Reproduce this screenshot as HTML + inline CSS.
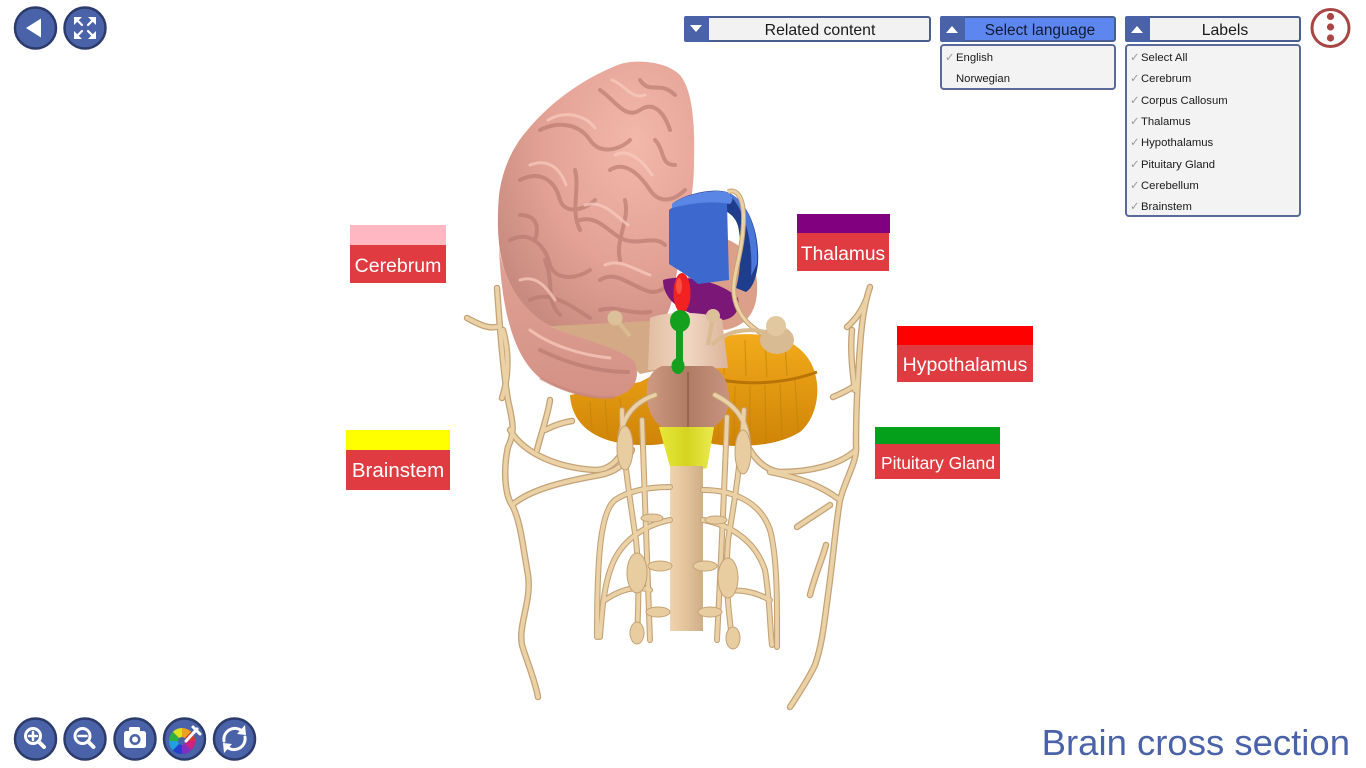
<!DOCTYPE html>
<html><head><meta charset="utf-8"><style>
html,body{margin:0;padding:0;background:#fff;width:1366px;height:768px;overflow:hidden}
svg{display:block}
text{font-family:"Liberation Sans",Arial,sans-serif}
</style></head><body>
<svg width="1366" height="768" viewBox="0 0 1366 768" xmlns="http://www.w3.org/2000/svg">
<defs>
<radialGradient id="gCer" cx="0.7" cy="0.3" r="0.8">
<stop offset="0" stop-color="#f2b8aa"/><stop offset="0.6" stop-color="#e3a195"/><stop offset="1" stop-color="#c98b80"/>
</radialGradient>
<linearGradient id="gLob" x1="0" y1="0" x2="0" y2="1">
<stop offset="0" stop-color="#e2a195"/><stop offset="1" stop-color="#d49286"/>
</linearGradient>
<linearGradient id="gOr" x1="0" y1="0" x2="0" y2="1">
<stop offset="0" stop-color="#f3ab1c"/><stop offset="1" stop-color="#cf8406"/>
</linearGradient>
<linearGradient id="gPons" x1="0" y1="0" x2="1" y2="0">
<stop offset="0" stop-color="#d09a82"/><stop offset="0.5" stop-color="#b07c64"/><stop offset="1" stop-color="#c89480"/>
</linearGradient>
<linearGradient id="gMid" x1="0" y1="0" x2="1" y2="0">
<stop offset="0" stop-color="#e2bea2"/><stop offset="0.5" stop-color="#f0d6c2"/><stop offset="1" stop-color="#dcb49a"/>
</linearGradient>
<linearGradient id="gCord" x1="0" y1="0" x2="1" y2="0">
<stop offset="0" stop-color="#f0d4ae"/><stop offset="0.5" stop-color="#e2c29a"/><stop offset="1" stop-color="#cfae86"/>
</linearGradient>
<linearGradient id="gYel" x1="0" y1="0" x2="1" y2="0">
<stop offset="0" stop-color="#e8e83a"/><stop offset="0.5" stop-color="#d4d420"/><stop offset="1" stop-color="#eaea50"/>
</linearGradient>
<g id="outerN">
<path d="M497,288 C500,330 503,370 508,400 C512,420 516,430 508,447 C503,470 505,495 512,505 C520,520 522,540 528,575 C532,600 518,625 522,645 C528,665 535,680 538,697"/>
<path d="M467,318 C480,325 490,330 500,326"/>
<path d="M503,330 C510,355 508,380 502,398"/>
<path d="M510,430 C525,455 560,468 595,470 C610,470 620,460 628,440"/>
<path d="M512,505 C530,490 560,482 600,475 C615,472 625,465 632,450"/>
<path d="M537,450 C542,430 548,415 550,400"/>
<path d="M545,430 C555,425 565,422 572,421"/>
<path d="M870,287 C862,310 860,340 858,380 C856,410 856,430 856,445 C858,460 845,480 840,500 C835,530 833,560 828,595 C824,625 822,645 815,665 C808,680 798,695 790,707"/>
<path d="M847,327 C855,320 862,310 866,300"/>
<path d="M852,330 C850,350 852,370 855,390"/>
<path d="M856,450 C840,465 810,472 780,472 C760,470 748,450 740,430 C735,420 725,412 718,408"/>
<path d="M840,500 C820,485 800,478 770,472"/>
<path d="M797,527 C810,518 820,512 830,505"/>
<path d="M810,595 C815,575 822,560 826,545"/>
<path d="M833,397 C845,392 852,388 857,384"/>
</g>
<g id="innerN">
<path d="M655,395 C640,400 622,412 620,440"/>
<path d="M715,395 C735,405 748,420 748,445"/>
<path d="M622,410 C622,450 630,500 636,540 C640,580 638,610 637,640"/>
<path d="M642,420 C645,500 648,580 650,640"/>
<path d="M744,410 C742,450 735,500 728,540 C725,580 728,610 733,645"/>
<path d="M727,417 C724,500 720,580 717,640"/>
<path d="M670,487 C650,487 630,490 615,500 C600,512 597,560 597,637"/>
<path d="M670,520 C645,525 622,540 612,565 C604,585 602,610 600,637"/>
<path d="M703,490 C730,490 760,500 770,530 C778,560 777,610 777,647"/>
<path d="M703,520 C730,525 755,540 765,570 C770,600 770,630 772,645"/>
<path d="M605,600 C620,590 635,585 650,590"/>
<path d="M770,600 C755,592 740,588 720,592"/>
</g>
</defs>
<rect width="1366" height="768" fill="#fff"/>

<!-- outer nerves -->
<use href="#outerN" fill="none" stroke="#c4a276" stroke-width="6.5" stroke-linecap="round" stroke-linejoin="round"/>
<use href="#outerN" fill="none" stroke="#ebd1a6" stroke-width="4" stroke-linecap="round" stroke-linejoin="round"/>

<!-- cerebellum -->
<path d="M570,395 C572,428 600,444 640,445 C660,446 675,442 690,436 C710,449 770,451 800,432 C818,417 822,386 812,365 C805,350 790,339 770,336 C745,332 720,334 700,345 C680,360 660,372 640,382 Z" fill="url(#gOr)"/>
<path d="M712,378 C745,386 785,384 817,372" fill="none" stroke="#b87406" stroke-width="3"/>
<g stroke="#c4800a" stroke-width="1.2" opacity="0.6" fill="none">
<path d="M720,384 L718,440"/><path d="M735,386 L734,445"/><path d="M750,386 L750,446"/><path d="M765,385 L766,444"/><path d="M780,384 L782,440"/><path d="M795,380 L798,432"/>
<path d="M725,345 L724,374"/><path d="M745,340 L746,376"/><path d="M765,340 L767,377"/><path d="M785,345 L787,376"/>
<path d="M590,402 L592,432"/><path d="M605,400 L608,438"/><path d="M620,398 L624,440"/>
</g>

<!-- thalamus salmon -->
<path d="M688,238 C722,230 754,244 757,282 C759,312 746,326 725,330 L700,322 L688,300 Z" fill="#dca08a"/>

<!-- cerebrum upper -->
<path d="M613,67 C630,58 665,60 680,75 C692,90 695,120 694,160 C694,190 690,210 684,232 L672,300 C668,318 660,328 640,330 L560,330 C535,322 515,300 505,272 C497,248 497,220 499,195 C503,165 515,145 525,133 C545,108 575,83 613,67 Z" fill="url(#gCer)"/>
<!-- tan band -->
<path d="M553,326 L666,320 L670,368 L640,374 C625,358 590,344 553,332 Z" fill="#d4aa86"/>
<!-- lower lobe -->
<path d="M499,248 C505,290 530,318 560,331 C590,341 620,349 634,361 C641,376 636,391 615,397 C590,401 560,391 540,378 C518,360 502,322 499,248 Z" fill="url(#gLob)"/>
<path d="M540,378 C565,392 595,400 615,397" fill="none" stroke="#c48478" stroke-width="3" opacity="0.6"/>
<g fill="none" stroke="#b97970" stroke-width="4" stroke-linecap="round" opacity="0.65">
<path d="M540,130 C560,120 580,125 590,140 C600,155 620,150 630,140"/>
<path d="M520,180 C540,170 555,180 560,200 C565,215 585,210 595,200"/>
<path d="M510,240 C530,230 545,245 550,265 C555,280 575,280 590,270"/>
<path d="M530,300 C550,290 570,305 590,318"/>
<path d="M600,90 C615,100 625,120 640,110 C655,100 665,115 670,130"/>
<path d="M610,170 C625,160 640,175 650,190 C660,205 675,200 685,190"/>
<path d="M580,220 C600,215 610,235 625,240 C640,245 655,235 665,245"/>
<path d="M600,280 C615,270 630,285 645,290 C655,295 665,290 672,280"/>
<path d="M540,350 C565,362 595,372 628,372"/>
<path d="M640,80 C650,95 660,80 675,95"/>
<path d="M575,170 C580,190 570,210 580,230"/>
<path d="M625,200 C630,220 615,240 620,260"/>
<path d="M545,260 C555,285 545,300 560,315"/>
<path d="M655,140 C665,150 660,165 675,165"/>
<path d="M520,215 C535,215 540,225 535,240"/>
<path d="M600,310 C615,305 630,315 650,312"/>
</g>
<g fill="none" stroke="#f7cbbd" stroke-width="3" stroke-linecap="round" opacity="0.75">
<path d="M548,120 C565,110 585,115 595,128"/>
<path d="M530,165 C548,158 560,168 566,185"/>
<path d="M615,155 C628,148 642,160 652,175"/>
<path d="M585,205 C603,200 615,215 628,225"/>
<path d="M605,265 C620,258 635,270 650,275"/>
<path d="M612,80 C625,85 632,100 645,95"/>
<path d="M520,280 C535,275 545,285 555,300"/>
<path d="M530,330 C550,345 580,355 610,358"/>
</g>

<!-- purple -->
<path d="M663,280 C680,274 720,280 738,298 C741,314 730,321 718,320 L690,313 C675,307 663,296 663,280 Z" fill="#7b1777"/>

<!-- blue corpus callosum -->
<path d="M672,204 C685,193 715,188 727,192 C748,200 760,232 758,264 C756,280 752,288 746,292 L736,288 C741,270 742,244 738,226 C734,212 720,206 700,207 Z" fill="#1e3d8c"/>
<path d="M669,210 C676,203 700,200 727,203 L729,280 L698,284 C690,277 680,271 669,264 Z" fill="#3d69cf"/>
<path d="M672,204 C685,194 712,189 727,192 C733,196 734,200 730,204 C715,201 695,202 672,208 Z" fill="#5a86e6"/>
<path d="M727,192 C748,200 759,232 757,264 L751,276 C753,242 746,210 727,192 Z" fill="#4a77d8"/>

<!-- hypothalamus red -->
<ellipse cx="682" cy="293" rx="8.5" ry="20" fill="#f22222"/>
<ellipse cx="679" cy="286" rx="3" ry="8" fill="#ff6a5a" opacity="0.6"/>

<!-- midbrain tan -->
<path d="M650,318 C665,311 705,311 722,319 L728,368 L648,370 Z" fill="url(#gMid)"/>
<!-- pons -->
<path d="M647,387 C645,410 655,428 672,431 L700,431 C718,429 730,415 729,396 C728,381 722,371 712,366 L662,366 C652,370 648,378 647,387 Z" fill="url(#gPons)"/>
<path d="M688,372 L688,429" stroke="#8e5e48" stroke-width="1.5"/>

<!-- pituitary green -->
<ellipse cx="680" cy="321" rx="10" ry="11" fill="#14a01c"/>
<rect x="676" y="325" width="7" height="40" fill="#14a01c"/>
<ellipse cx="678" cy="366" rx="6.5" ry="8" fill="#14a01c"/>

<!-- yellow -->
<path d="M659,427 L714,427 L707,468 L686,474 L671,470 Z" fill="url(#gYel)"/>
<!-- spinal cord -->
<rect x="670" y="466" width="33" height="165" fill="url(#gCord)"/>

<!-- inner nerves -->
<use href="#innerN" fill="none" stroke="#c4a276" stroke-width="6" stroke-linecap="round" stroke-linejoin="round"/>
<use href="#innerN" fill="none" stroke="#ebd1a6" stroke-width="3.8" stroke-linecap="round" stroke-linejoin="round"/>
<g fill="#e8cda0" stroke="#c4a276" stroke-width="1">
<ellipse cx="625" cy="448" rx="8" ry="22"/>
<ellipse cx="637" cy="573" rx="10" ry="20"/>
<ellipse cx="637" cy="633" rx="7" ry="11"/>
<ellipse cx="743" cy="452" rx="8" ry="22"/>
<ellipse cx="728" cy="578" rx="10" ry="20"/>
<ellipse cx="733" cy="638" rx="7" ry="11"/>
<ellipse cx="652" cy="518" rx="11" ry="4"/>
<ellipse cx="660" cy="566" rx="12" ry="5"/>
<ellipse cx="658" cy="612" rx="12" ry="5"/>
<ellipse cx="716" cy="520" rx="11" ry="4"/>
<ellipse cx="705" cy="566" rx="12" ry="5"/>
<ellipse cx="710" cy="612" rx="12" ry="5"/>
</g>

<!-- small balls and loop -->
<path d="M728,192 C736,188 746,196 743,230 C741,260 730,280 735,300 C740,320 755,330 765,335" fill="none" stroke="#c4a276" stroke-width="5"/>
<path d="M728,192 C736,188 746,196 743,230 C741,260 730,280 735,300 C740,320 755,330 765,335" fill="none" stroke="#ebd1a6" stroke-width="3"/>
<path d="M712,345 C725,332 745,327 765,332" fill="none" stroke="#d9bb90" stroke-width="4"/>
<path d="M615,318 L630,336" stroke="#d9bb90" stroke-width="4"/>
<path d="M713,317 L708,345" stroke="#d9bb90" stroke-width="4"/>
<circle cx="615" cy="318" r="7.5" fill="#dcc09a"/>
<circle cx="713" cy="316" r="7" fill="#dcc09a"/>
<ellipse cx="777" cy="340" rx="17" ry="14" fill="#d8bb92"/>
<circle cx="776" cy="326" r="10" fill="#e2c8a0"/>

<!-- labels -->
<g>
<rect x="350" y="225" width="96" height="20" fill="#ffb7c2"/>
<rect x="350" y="245" width="96" height="38" fill="#df3b40"/>
<text x="398" y="272" font-size="19.5" fill="#fff" text-anchor="middle">Cerebrum</text>

<rect x="797" y="214" width="93" height="19" fill="#800080"/>
<rect x="797" y="233" width="92" height="38" fill="#df3b40"/>
<text x="843" y="260" font-size="19.2" fill="#fff" text-anchor="middle">Thalamus</text>

<rect x="897" y="326" width="136" height="19" fill="#ff0000"/>
<rect x="897" y="345" width="136" height="37" fill="#df3b40"/>
<text x="965" y="371" font-size="19.5" fill="#fff" text-anchor="middle">Hypothalamus</text>

<rect x="346" y="430" width="104" height="20" fill="#ffff00"/>
<rect x="346" y="450" width="104" height="40" fill="#df3b40"/>
<text x="398" y="477" font-size="20.5" fill="#fff" text-anchor="middle">Brainstem</text>

<rect x="875" y="427" width="125" height="17" fill="#04a01c"/>
<rect x="875" y="444" width="125" height="35" fill="#df3b40"/>
<text x="938" y="469" font-size="17.4" fill="#fff" text-anchor="middle">Pituitary Gland</text>
</g>

<!-- top-left buttons -->
<g stroke="#2c3b6b" stroke-width="2.5" fill="#4a63a8">
<circle cx="35.5" cy="28" r="20.5"/>
<circle cx="85" cy="28" r="20.5"/>
</g>
<polygon points="26,28 41,18.5 41,37.5" fill="#fff"/>
<g fill="#fff" stroke="#fff" stroke-width="2.2" stroke-linecap="round">
<polygon points="74,17 82,17 74,25" stroke="none"/>
<polygon points="96,17 88,17 96,25" stroke="none"/>
<polygon points="74,39 82,39 74,31" stroke="none"/>
<polygon points="96,39 88,39 96,31" stroke="none"/>
<line x1="76" y1="19" x2="82" y2="25"/>
<line x1="94" y1="19" x2="88" y2="25"/>
<line x1="76" y1="37" x2="82" y2="31"/>
<line x1="94" y1="37" x2="88" y2="31"/>
</g>

<!-- bottom buttons -->
<g stroke="#2c3b6b" stroke-width="2.5" fill="#4a63a8">
<circle cx="35.5" cy="739" r="20.5"/>
<circle cx="85" cy="739" r="20.5"/>
<circle cx="135" cy="739" r="20.5"/>
<circle cx="184.5" cy="739" r="20.5"/>
<circle cx="234.5" cy="739" r="20.5"/>
</g>
<g fill="none" stroke="#fff" stroke-linecap="round">
<circle cx="33" cy="736" r="7.5" stroke-width="3"/>
<line x1="38.5" y1="741.5" x2="44" y2="747" stroke-width="4"/>
<line x1="29" y1="736" x2="37" y2="736" stroke-width="2.5"/>
<line x1="33" y1="732" x2="33" y2="740" stroke-width="2.5"/>
<circle cx="82.5" cy="736" r="7.5" stroke-width="3"/>
<line x1="88" y1="741.5" x2="93.5" y2="747" stroke-width="4"/>
<line x1="78.5" y1="736" x2="86.5" y2="736" stroke-width="2.5"/>
</g>
<rect x="124" y="731" width="22" height="17" rx="2.5" fill="#fff"/>
<rect x="129" y="727" width="11" height="6" rx="1.5" fill="#fff"/>
<circle cx="135" cy="739.5" r="5.5" fill="#4a63a8"/>
<circle cx="135" cy="739.5" r="3" fill="#fff"/>
<g transform="translate(182,741)">
<path d="M0,0 L0,-13 A13,13 0 0 1 9.2,-9.2 Z" fill="#f0a020"/>
<path d="M0,0 L9.2,-9.2 A13,13 0 0 1 13,0 Z" fill="#e03030"/>
<path d="M0,0 L13,0 A13,13 0 0 1 9.2,9.2 Z" fill="#d02080"/>
<path d="M0,0 L9.2,9.2 A13,13 0 0 1 0,13 Z" fill="#8030c0"/>
<path d="M0,0 L0,13 A13,13 0 0 1 -9.2,9.2 Z" fill="#2040d0"/>
<path d="M0,0 L-9.2,9.2 A13,13 0 0 1 -13,0 Z" fill="#20a0e0"/>
<path d="M0,0 L-13,0 A13,13 0 0 1 -9.2,-9.2 Z" fill="#30b040"/>
<path d="M0,0 L-9.2,-9.2 A13,13 0 0 1 0,-13 Z" fill="#e0e020"/>
<circle r="4" fill="#4a63a8"/>
</g>
<line x1="186" y1="741" x2="197" y2="729" stroke="#fff" stroke-width="3" stroke-linecap="round"/>
<line x1="193" y1="727" x2="200" y2="734" stroke="#fff" stroke-width="3" stroke-linecap="round"/>
<g fill="none" stroke="#fff" stroke-width="3" stroke-linecap="round">
<path d="M224,741 A11,11 0 0 1 242,731"/>
<path d="M245,737 A11,11 0 0 1 227,747"/>
</g>
<polygon points="245,725 246,735 237,734" fill="#fff"/>
<polygon points="224,753 223,743 232,744" fill="#fff"/>

<!-- Related content -->
<rect x="685" y="17" width="245" height="24" rx="2" fill="#f2f2f2" stroke="#4a5d91" stroke-width="2"/>
<rect x="684" y="16" width="25" height="26" rx="2" fill="#4a63a8"/>
<polygon points="690,25 702,25 696,32" fill="#fff"/>
<text x="820" y="35" font-size="15.8" fill="#1a1a1a" text-anchor="middle">Related content</text>

<!-- Select language -->
<rect x="941" y="17" width="174" height="24" rx="2" fill="#5d87ee" stroke="#4a5d91" stroke-width="2"/>
<rect x="940" y="16" width="25" height="26" rx="2" fill="#4a63a8"/>
<polygon points="946,33 958,33 952,26" fill="#fff"/>
<text x="1040" y="35" font-size="15.4" fill="#111a30" text-anchor="middle">Select language</text>
<rect x="941" y="45" width="174" height="44" rx="3" fill="#f3f3f3" stroke="#5a6a98" stroke-width="2"/>
<g font-size="11.3" fill="#1a1a1a">
<text x="945" y="61" fill="#999">✓</text><text x="956" y="61">English</text>
<text x="956" y="82">Norwegian</text>
</g>

<!-- Labels -->
<rect x="1126" y="17" width="174" height="24" rx="2" fill="#f2f2f2" stroke="#4a5d91" stroke-width="2"/>
<rect x="1125" y="16" width="25" height="26" rx="2" fill="#4a63a8"/>
<polygon points="1131,33 1143,33 1137,26" fill="#fff"/>
<text x="1225" y="35" font-size="15.8" fill="#1a1a1a" text-anchor="middle">Labels</text>
<rect x="1126" y="45" width="174" height="171" rx="3" fill="#f3f3f3" stroke="#5a6a98" stroke-width="2"/>
<g font-size="11.3" fill="#1a1a1a">
<g fill="#999"><text x="1130" y="61">✓</text><text x="1130" y="82">✓</text><text x="1130" y="104">✓</text><text x="1130" y="125">✓</text><text x="1130" y="146">✓</text><text x="1130" y="168">✓</text><text x="1130" y="189">✓</text><text x="1130" y="210">✓</text></g>
<text x="1141" y="61">Select All</text>
<text x="1141" y="82">Cerebrum</text>
<text x="1141" y="104">Corpus Callosum</text>
<text x="1141" y="125">Thalamus</text>
<text x="1141" y="146">Hypothalamus</text>
<text x="1141" y="168">Pituitary Gland</text>
<text x="1141" y="189">Cerebellum</text>
<text x="1141" y="210">Brainstem</text>
</g>

<!-- kebab -->
<circle cx="1330.5" cy="28" r="18.5" fill="#fff" stroke="#a84646" stroke-width="3"/>
<circle cx="1330.5" cy="16.5" r="3.6" fill="#a84646"/>
<circle cx="1330.5" cy="27" r="3.6" fill="#a84646"/>
<circle cx="1330.5" cy="38" r="3.6" fill="#a84646"/>

<!-- title -->
<text x="1350" y="755" font-size="36.5" fill="#4a63a8" text-anchor="end">Brain cross section</text>
</svg>
</body></html>
